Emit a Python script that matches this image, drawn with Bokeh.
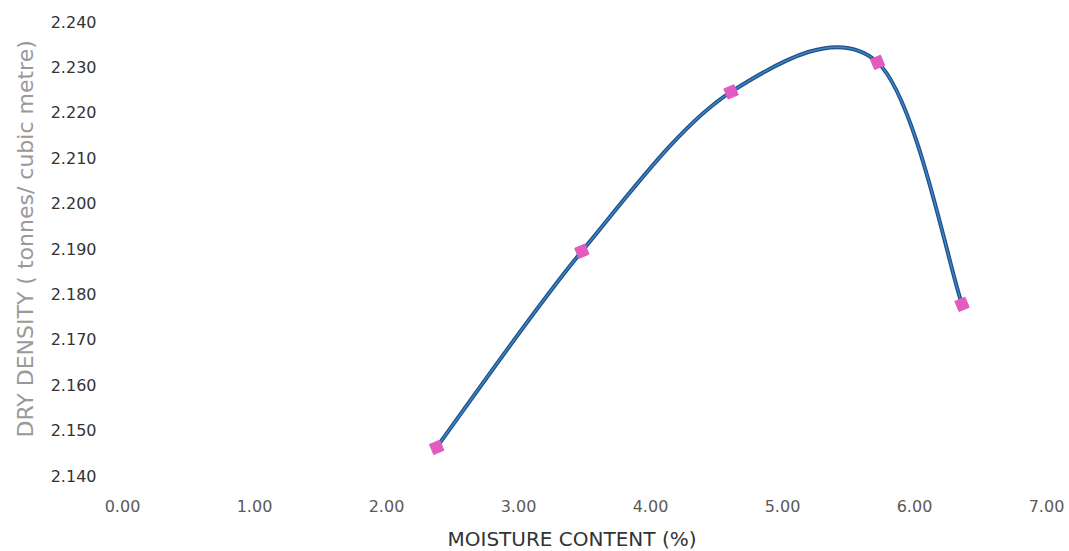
import numpy as np
from bokeh.plotting import figure
from bokeh.models import Range1d, FixedTicker, PrintfTickFormatter, Title
from bokeh.embed import file_html
from bokeh.resources import INLINE

# Data
moisture = [2.38, 3.48, 4.61, 5.72, 6.36]
density = [2.1462, 2.1894, 2.2245, 2.2310, 2.1777]
x_ticks = [0, 1, 2, 3, 4, 5, 6, 7]
y_ticks = [2.14, 2.15, 2.16, 2.17, 2.18, 2.19, 2.20, 2.21, 2.22, 2.23, 2.24]
x_title = "MOISTURE CONTENT (%)"
y_title = "DRY DENSITY ( tonnes/ cubic metre)"

FONT = "DejaVu Sans"

p = figure(frame_width=924, frame_height=454,
           x_range=Range1d(0, 7), y_range=Range1d(2.14, 2.2400001),
           output_backend="svg", toolbar_location=None,
           min_border_left=114, min_border_top=21,
           min_border_right=31, min_border_bottom=76)
p.outline_line_color = None
p.xgrid.visible = False
p.ygrid.visible = False

# Smoothed line (Excel-style Catmull-Rom Bezier segments through the points)
xs = np.array(moisture)
ys = np.array(density)
n = len(xs)
xp = np.concatenate([[xs[0]], xs, [xs[-1]]])
yp = np.concatenate([[ys[0]], ys, [ys[-1]]])
x0, y0 = xs[:-1], ys[:-1]
x1, y1 = xs[1:], ys[1:]
cx0 = xs[:-1] + (xp[2:n + 1] - xp[0:n - 1]) / 6.0
cy0 = ys[:-1] + (yp[2:n + 1] - yp[0:n - 1]) / 6.0
cx1 = xs[1:] - (xp[3:n + 2] - xp[1:n]) / 6.0
cy1 = ys[1:] - (yp[3:n + 2] - yp[1:n]) / 6.0

p.bezier(x0=x0, y0=y0, x1=x1, y1=y1, cx0=cx0, cy0=cy0, cx1=cx1, cy1=cy1,
         line_color="#1f4f85", line_width=4)
p.bezier(x0=x0, y0=y0, x1=x1, y1=y1, cx0=cx0, cy0=cy0, cx1=cx1, cy1=cy1,
         line_color="#3a86c8", line_width=1.5)

p.scatter(moisture, density, marker="square", size=11, angle=0.4,
          fill_color="#e25cc0", line_color="#e25cc0")

# Axes
p.xaxis.ticker = FixedTicker(ticks=x_ticks)
p.yaxis.ticker = FixedTicker(ticks=y_ticks)
p.xaxis.formatter = PrintfTickFormatter(format="%.2f")
p.yaxis.formatter = PrintfTickFormatter(format="%.3f")
for ax in (p.xaxis, p.yaxis):
    ax.axis_line_color = None
    ax.major_tick_line_color = None
    ax.minor_tick_line_color = None
    ax.major_label_text_font = FONT

p.xaxis.major_label_text_font_size = "16px"
p.xaxis.major_label_text_color = "#5a5a5a"
p.xaxis.major_label_standoff = 18

p.yaxis.major_label_text_font_size = "16px"
p.yaxis.major_label_text_color = "#333333"
p.yaxis.major_label_standoff = 20

# Axis titles as side-panel titles (off-centre, as in the original)
p.add_layout(Title(text=x_title, align="left", offset=325, standoff=20,
                   text_font=FONT, text_font_size="20px", text_color="#333333",
                   text_font_style="normal"), "below")
p.add_layout(Title(text=y_title, align="left", offset=38, standoff=20,
                   text_font=FONT, text_font_size="22px", text_color="#999999",
                   text_font_style="normal"), "left")

open("out.html", "w").write(file_html(p, INLINE))
